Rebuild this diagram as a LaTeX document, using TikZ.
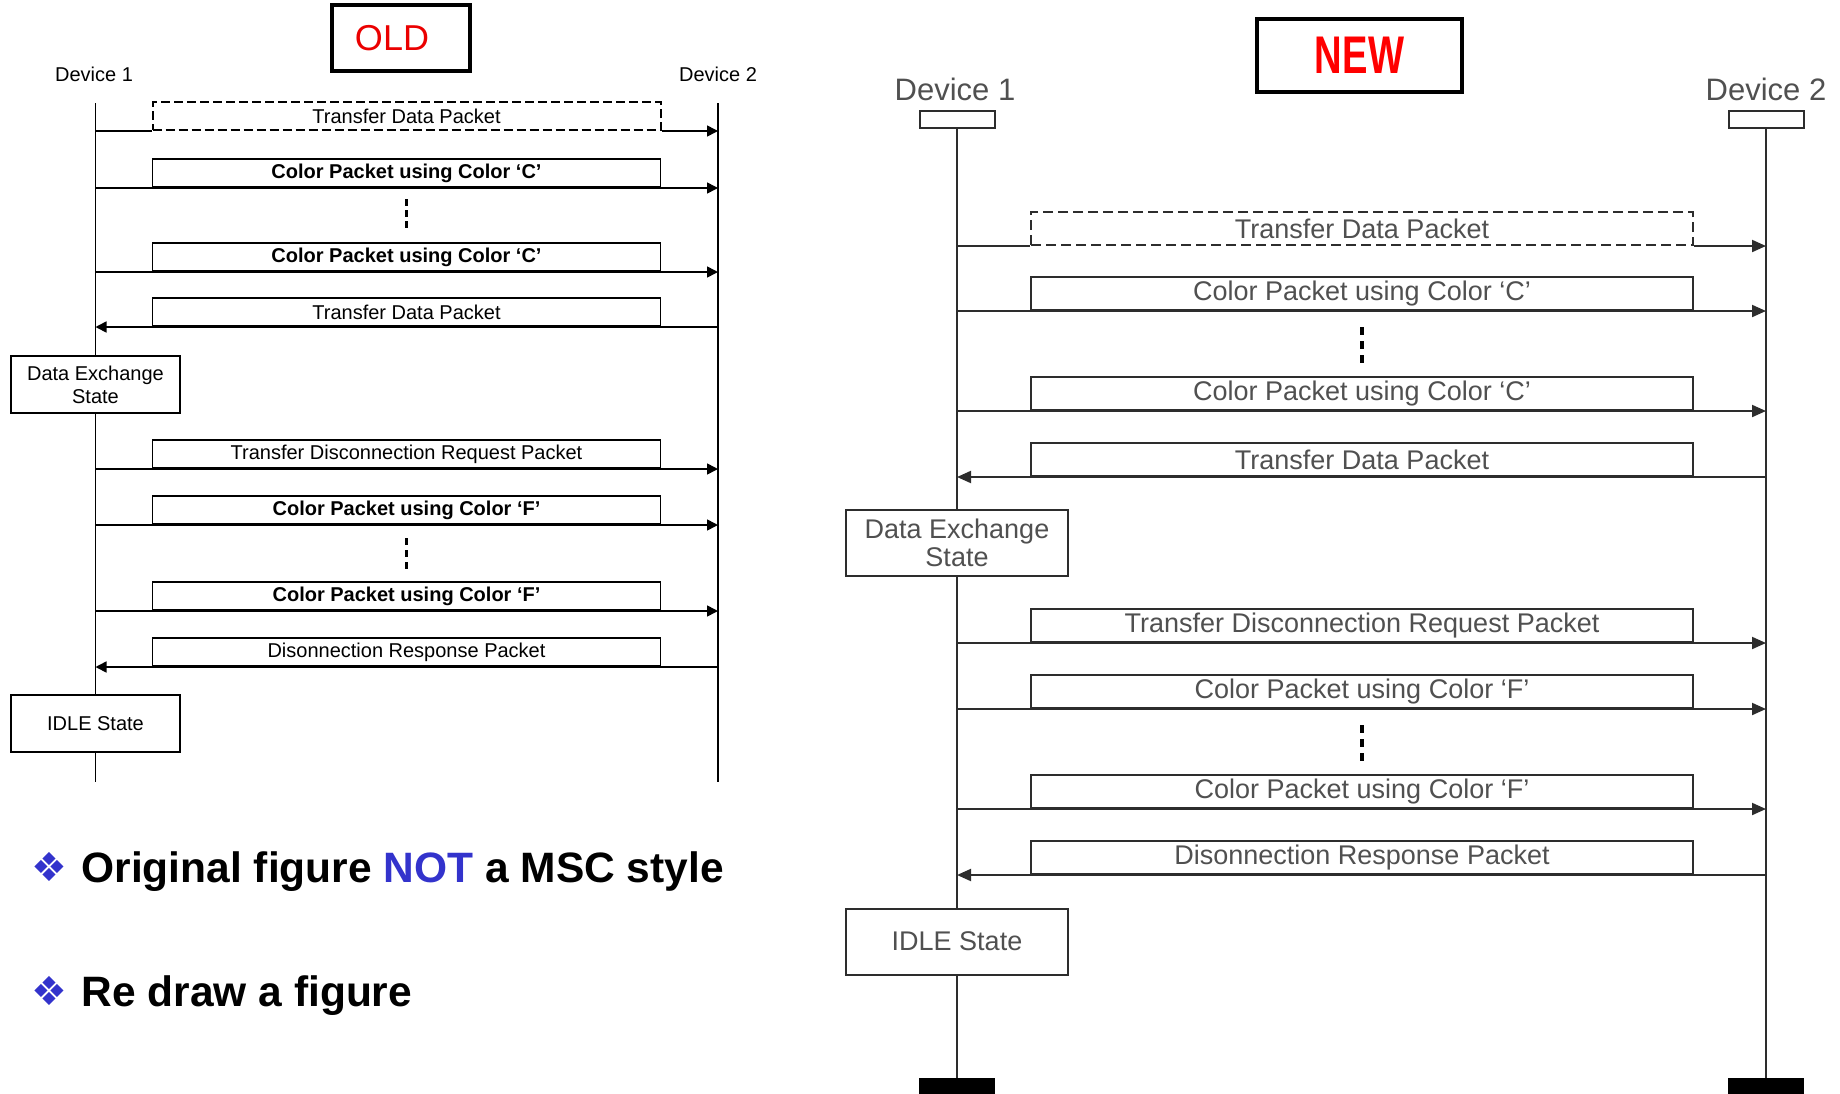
\documentclass[tikz,border=0pt]{standalone}
\usepackage{fontspec}
\setmainfont{Liberation Sans}
\newfontfamily\symfont{DejaVu Sans}
\usepackage{tikz}
\usepackage{xcolor}
\usepackage{graphicx}
\usetikzlibrary{positioning,calc,arrows.meta}
\definecolor{oldred}{RGB}{235,0,0}
\definecolor{newred}{RGB}{255,0,0}
\definecolor{notblue}{RGB}{51,51,204}
\definecolor{mscline}{RGB}{45,45,45}
\definecolor{msctext}{RGB}{80,80,80}
\tikzset{
  titlebox/.style={
    rectangle, draw=black, line width=4pt, fill=white,
    inner sep=0pt
  },
  oldlabel/.style={font=\fontsize{20}{22}\selectfont},
  oldline/.style={draw=black, line width=1.6pt},
  oldarrow/.style={oldline, -{Triangle[length=11pt,width=11pt]}},
  oldmsg/.style={
    rectangle, draw=black, line width=1.6pt, fill=white,
    minimum width=508pt, minimum height=28pt, inner sep=0pt,
    anchor=south, font=\fontsize{20}{22}\selectfont
  },
  oldstate/.style={
    rectangle, draw=black, line width=1.6pt, fill=white,
    minimum width=169pt, minimum height=57pt, inner sep=0pt,
    align=center, font=\fontsize{20}{23}\selectfont
  },
  newlabel/.style={text=msctext, font=\fontsize{31}{34}\selectfont},
  newline/.style={draw=mscline, line width=2pt},
  newarrow/.style={newline, -{Triangle[length=14pt,width=12pt]}},
  newmsg/.style={
    rectangle, draw=mscline, line width=2pt, fill=white,
    minimum width=662pt, minimum height=33pt, inner sep=0pt,
    anchor=south, text=msctext, font=\fontsize{27}{30}\selectfont
  },
  newstate/.style={
    rectangle, draw=mscline, line width=2pt, fill=white,
    minimum width=222pt, minimum height=66pt, inner sep=0pt,
    align=center, text=msctext, font=\fontsize{27}{28.5}\selectfont
  },
  headbox/.style={
    rectangle, draw=mscline, line width=2pt, fill=white,
    minimum width=75pt, minimum height=17pt, inner sep=0pt
  },
  endbox/.style={
    rectangle, fill=black, minimum width=76pt, minimum height=20pt,
    inner sep=0pt, anchor=north
  },
  etcline/.style={line width=3pt},
  bullet/.style={text=notblue, font=\symfont\fontsize{40}{42}\selectfont},
  pointtext/.style={anchor=base west, font=\fontsize{42.5}{48}\selectfont\bfseries},
}

\begin{document}
\begin{tikzpicture}[x=1pt,y=-1pt]
\useasboundingbox (0,0) rectangle (1840,1093);

%% ── OLD figure (left) ─────────────────────────────────────────────────────
\node[titlebox, minimum width=138pt, minimum height=66pt,
      text=oldred, font=\fontsize{36}{40}\selectfont] (oldtitle) at (401,38)
  {OLD\hspace*{18pt}};

\node[oldlabel] (od1) at (94,74) {Device 1};
\node[oldlabel] (od2) at (718,74) {Device 2};
\coordinate (oL) at (95.5,103);
\coordinate (oR) at (718,103);
\coordinate (oLend) at (95.5,782);
\coordinate (oRend) at (718,782);
\draw[oldline, line width=1.4pt] (oL) -- (oLend);
\draw[oldline, line width=1.4pt] (oR) -- (oRend);

\node[oldmsg, dashed, line width=2pt, dash pattern=on 9pt off 4pt] (om1) at (406.5,131)
  {Transfer Data Packet};
\draw[oldline] (oL |- om1.south) -- (om1.south west);
\draw[oldarrow] (om1.south east) -- (oR |- om1.south);

\draw[oldarrow] (oL |- 0,188) -- (oR |- 0,188);
\node[oldmsg, font=\fontsize{20}{22}\selectfont\bfseries] (om2) at (406.5,188)
  {Color Packet using Color ‘C’};

\draw[etcline, dash pattern=on 7pt off 4pt] (406.5,199) -- (406.5,230);

\draw[oldarrow] (oL |- 0,272) -- (oR |- 0,272);
\node[oldmsg, font=\fontsize{20}{22}\selectfont\bfseries] (om3) at (406.5,272)
  {Color Packet using Color ‘C’};

\draw[oldarrow] (oR |- 0,327) -- (oL |- 0,327);
\node[oldmsg] (om4) at (406.5,327) {Transfer Data Packet};

\node[oldstate] (ostate1) at (95.5,384.5) {Data Exchange\\State};

\draw[oldarrow] (oL |- 0,469) -- (oR |- 0,469);
\node[oldmsg] (om5) at (406.5,469) {Transfer Disconnection Request Packet};

\draw[oldarrow] (oL |- 0,525) -- (oR |- 0,525);
\node[oldmsg, font=\fontsize{20}{22}\selectfont\bfseries] (om6) at (406.5,525)
  {Color Packet using Color ‘F’};

\draw[etcline, dash pattern=on 7pt off 5pt] (406.5,538) -- (406.5,570);

\draw[oldarrow] (oL |- 0,611) -- (oR |- 0,611);
\node[oldmsg, font=\fontsize{20}{22}\selectfont\bfseries] (om7) at (406.5,611)
  {Color Packet using Color ‘F’};

\draw[oldarrow] (oR |- 0,667) -- (oL |- 0,667);
\node[oldmsg] (om8) at (406.5,667) {Disonnection Response Packet};

\node[oldstate] (ostate2) at (95.5,723.5) {IDLE State};

%% ── Remarks under the old figure ─────────────────────────────────────────
\node[bullet] (b1) at (49,867) {❖};
\node[pointtext] (p1) at (78,882)
  {Original figure \textcolor{notblue}{NOT} a MSC style};
\node[bullet] (b2) at (49,991) {❖};
\node[pointtext] (p2) at (78,1006) {Re draw a figure};

%% ── NEW figure (right, MSC style) ────────────────────────────────────────
\node[titlebox, minimum width=205pt, minimum height=73pt,
      text=newred, font=\fontsize{53}{56}\selectfont\bfseries] (newtitle)
  at (1359.5,55.5) {\scalebox{0.72}[1]{NEW}};

\node[headbox] (nd1) at (957,119.5) {};
\node[headbox] (nd2) at (1766,119.5) {};
\node[newlabel] (nl1) at (955,89) {Device 1};
\node[newlabel] (nl2) at (1766,89) {Device 2};
\node[endbox] (ne1) at (957,1078) {};
\node[endbox] (ne2) at (1766,1078) {};
\draw[newline] (nd1.south) -- (ne1.north);
\draw[newline] (nd2.south) -- (ne2.north);

\node[newmsg, dash pattern=on 10pt off 5pt] (nm1) at (1362,246)
  {Transfer Data Packet};
\draw[newline] (nd1 |- nm1.south) -- (nm1.south west);
\draw[newarrow] (nm1.south east) -- (nd2 |- nm1.south);

\draw[newarrow] (nd1 |- 0,311) -- (nd2 |- 0,311);
\node[newmsg] (nm2) at (1362,311) {Color Packet using Color ‘C’};

\draw[etcline, line width=3.5pt, dash pattern=on 8pt off 6pt] (1362,327) -- (1362,363);

\draw[newarrow] (nd1 |- 0,411) -- (nd2 |- 0,411);
\node[newmsg] (nm3) at (1362,411) {Color Packet using Color ‘C’};

\draw[newarrow] (nd2 |- 0,477) -- (nd1 |- 0,477);
\node[newmsg] (nm4) at (1362,477) {Transfer Data Packet};

\node[newstate] (nstate1) at (957,543) {Data Exchange\\State};

\draw[newarrow] (nd1 |- 0,643) -- (nd2 |- 0,643);
\node[newmsg] (nm5) at (1362,643) {Transfer Disconnection Request Packet};

\draw[newarrow] (nd1 |- 0,709) -- (nd2 |- 0,709);
\node[newmsg] (nm6) at (1362,709) {Color Packet using Color ‘F’};

\draw[etcline, line width=3.5pt, dash pattern=on 8pt off 6pt] (1362,725) -- (1362,761);

\draw[newarrow] (nd1 |- 0,809) -- (nd2 |- 0,809);
\node[newmsg] (nm7) at (1362,809) {Color Packet using Color ‘F’};

\draw[newarrow] (nd2 |- 0,875) -- (nd1 |- 0,875);
\node[newmsg] (nm8) at (1362,875) {Disonnection Response Packet};

\node[newstate] (nstate2) at (957,941.5) {IDLE State};

\end{tikzpicture}
\end{document}
